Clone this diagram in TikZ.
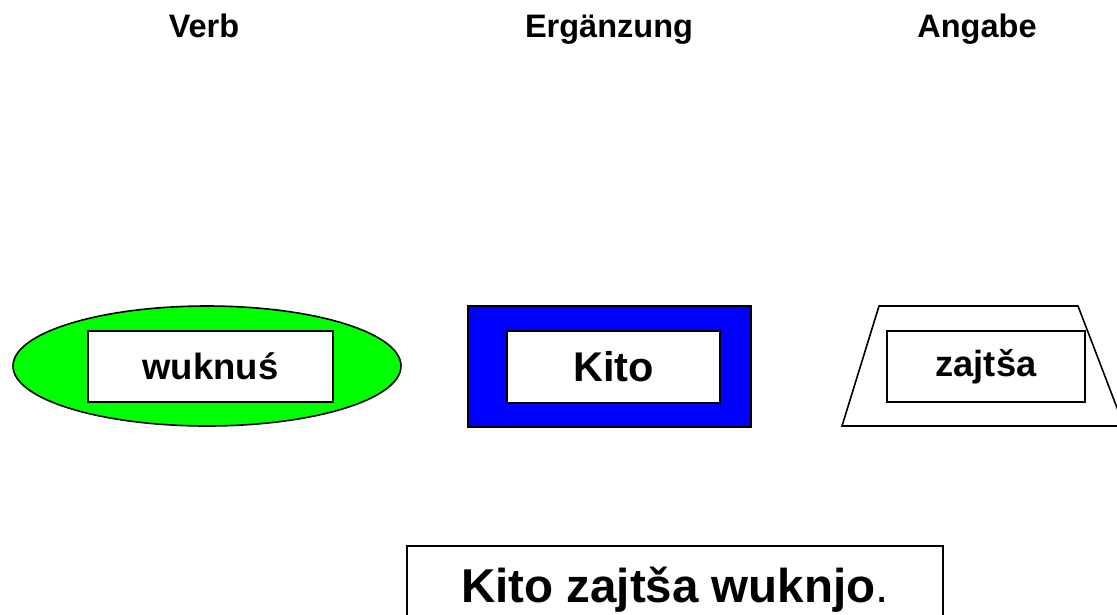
\documentclass[tikz,border=0pt]{standalone}
\usepackage{fontspec}
\setmainfont{Liberation Sans}
\usetikzlibrary{shapes.geometric}
\definecolor{vgreen}{RGB}{0,255,0}
\definecolor{eblue}{RGB}{0,0,255}
\begin{document}
\begin{tikzpicture}[x=1pt,y=-1pt,
  title/.style={font=\fontsize{32.5}{38}\selectfont\bfseries, anchor=base, inner sep=0pt},
  wordbox/.style={draw=black, line width=2pt, fill=white, inner sep=0pt, rectangle},
  outline/.style={draw=black, line width=1.6pt}]
\useasboundingbox[fill=white] (0,0) rectangle (1117,614);

% column headings
\node[title] (hverb) at (204,37) {Verb};
\node[title] (herg)  at (609,37) {Ergänzung};
\node[title] (hang)  at (977,37) {Angabe};

% verb: green ellipse
\node[ellipse, outline, fill=vgreen, minimum width=388pt, minimum height=120pt, inner sep=0pt]
  (verb) at (207,366) {};
\node[wordbox, minimum width=245pt, minimum height=71pt,
  font=\fontsize{36.5}{40}\selectfont\bfseries] (wverb) at (210.5,366.5) {wuknuś};

% complement: blue rectangle
\node[rectangle, outline, fill=eblue, minimum width=283pt, minimum height=121pt, inner sep=0pt]
  (erg) at (609.5,366.5) {};
\node[wordbox, minimum width=213pt, minimum height=72pt,
  font=\fontsize{41.5}{46}\selectfont\bfseries] (werg) at (613.5,367) {Kito};

% adjunct: trapezium
\coordinate (tl) at (879,306);
\coordinate (tr) at (1078,306);
\coordinate (br) at (1124,426);
\coordinate (bl) at (842,426);
\draw[outline, line join=miter] (tl) -- (tr) -- (br) -- (bl) -- cycle;
\node[wordbox, minimum width=198pt, minimum height=71pt,
  font=\fontsize{36.3}{40}\selectfont\bfseries] (wang) at (986,366.5) {zajtša};

% resulting sentence
\node[rectangle, outline, fill=white, minimum width=536pt, minimum height=108pt, inner sep=0pt]
  (sent) at (675,600) {};
\node[anchor=base, inner sep=0pt, font=\fontsize{47.5}{54}\selectfont] (stext) at (675,602)
  {\textbf{Kito zajtša wuknjo}.};
\end{tikzpicture}
\end{document}
